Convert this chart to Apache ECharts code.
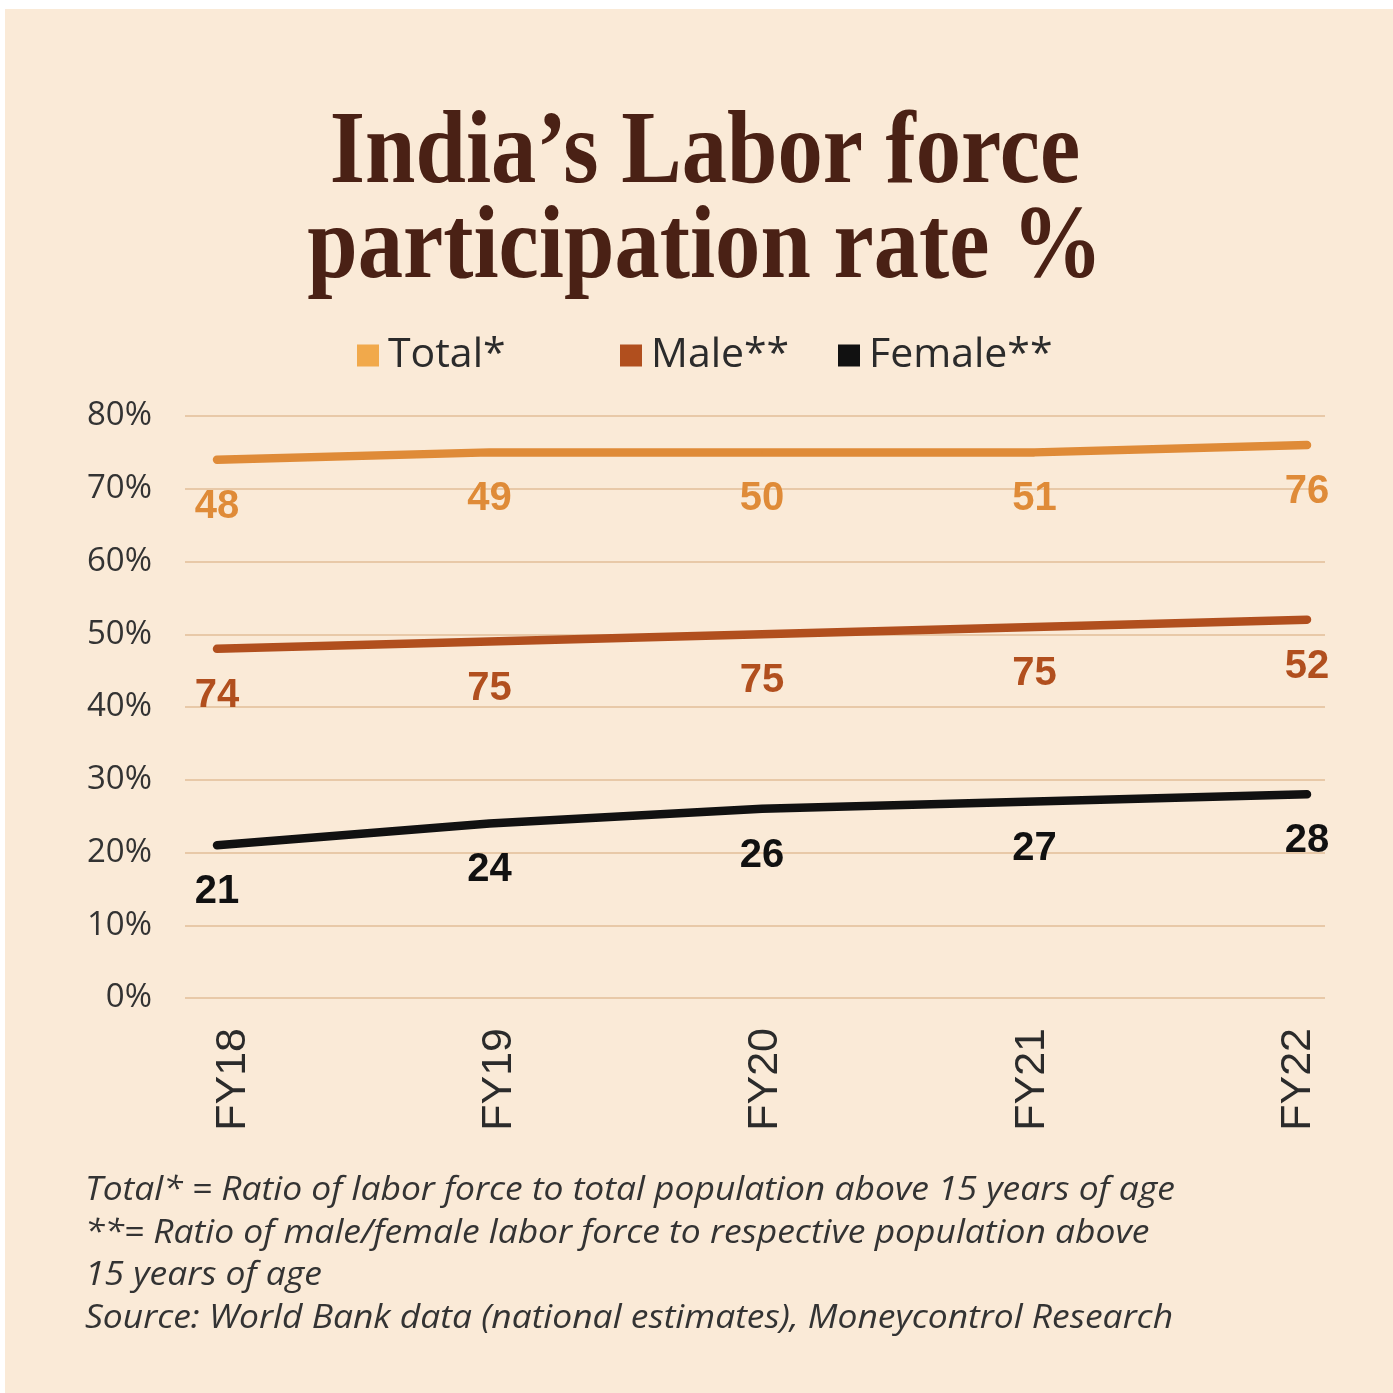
<!DOCTYPE html>
<html>
<head>
<meta charset="utf-8">
<script src="https://cdn.jsdelivr.net/npm/echarts@6/dist/echarts.min.js"></script>
<style>
  html, body { margin: 0; padding: 0; background: #ffffff; }
  #panel { position: absolute; left: 5px; top: 9px; width: 1388px; height: 1384px; background: #FAEAD7; }
  #chart { position: absolute; left: 0; top: 0; width: 1393px; height: 1393px; }
</style>
</head>
<body>
<div id="panel"></div>
<div id="chart"></div>
<script>
// Fiscal years on the x axis
const categories = ['FY18', 'FY19', 'FY20', 'FY21', 'FY22'];

// Line values (%)
const totalValues = [74, 75, 75, 75, 76];
const maleValues = [48, 49, 50, 51, 52];
const femaleValues = [21, 24, 26, 27, 28];

// Figures printed beneath each line, as published
const totalPrinted = [48, 49, 50, 51, 76];
const malePrinted = [74, 75, 75, 75, 52];

// Y axis ticks
const yMin = 0;
const yMax = 80;
const yStep = 10;

const footnotes = [
  'Total* = Ratio of labor force to total population above 15 years of age',
  '**= Ratio of male/female labor force to respective population above',
  '15 years of age',
  'Source: World Bank data (national estimates), Moneycontrol Research'
];

const C_TOTAL = '#DF8B38';
const C_TOTAL_KEY = '#F1A94B';
const C_MALE = '#B14F1E';
const C_FEMALE = '#111111';
const C_TEXT = '#2b2b2b';
const SANS = '"Open Sans", "Noto Sans", sans-serif';

const chart = echarts.init(document.getElementById('chart'), null, { renderer: 'canvas' });

function valueLabel(color, printed) {
  return {
    show: true,
    position: 'bottom',
    distance: 26,
    color: color,
    fontFamily: '"Liberation Sans", Arial, sans-serif',
    fontWeight: 'bold',
    fontSize: 40,
    lineHeight: 40,
    formatter: p => String(printed ? printed[p.dataIndex] : p.value)
  };
}

function lineSeries(name, data, color, printed) {
  return {
    name: name,
    type: 'line',
    xAxisIndex: 1,
    yAxisIndex: 1,
    data: data,
    symbol: 'circle',
    symbolSize: 2,
    itemStyle: { color: color },
    lineStyle: { color: color, width: 8.5, cap: 'round', join: 'round' },
    label: valueLabel(color, printed),
    emphasis: { disabled: true },
    animation: false
  };
}

function legendAt(left, name, color) {
  return {
    left: left,
    top: 330,
    icon: 'rect',
    itemWidth: 22,
    itemHeight: 22,
    itemGap: 0,
    selectedMode: false,
    data: [{ name: name, itemStyle: { color: color } }],
    textStyle: { fontSize: 41, color: C_TEXT, fontFamily: SANS, padding: [0, 0, 0, 4] }
  };
}

const titleFont = 'bold 103px "Liberation Serif", "DejaVu Serif", serif';
const footFont = 'italic 33px ' + SANS;

const option = {
  backgroundColor: 'transparent',
  animation: false,
  legend: [
    legendAt(352, 'Total*', C_TOTAL_KEY),
    legendAt(615, 'Male**', C_MALE),
    legendAt(833, 'Female**', C_FEMALE)
  ],
  grid: [
    // full-width grid carrying the horizontal gridlines and the % labels
    { left: 185, right: 68, top: 416, bottom: 395 },
    // plotting grid for the lines
    { left: 217, right: 86, top: 416, bottom: 395 },
    // grid holding the year labels
    { left: 233, right: 95, top: 416, bottom: 395 }
  ],
  xAxis: [
    { gridIndex: 0, type: 'category', data: categories, show: false },
    { gridIndex: 1, type: 'category', data: categories, boundaryGap: false, show: false },
    {
      gridIndex: 2,
      type: 'category',
      data: categories,
      boundaryGap: false,
      axisLine: { show: false },
      axisTick: { show: false },
      axisLabel: {
        rotate: 90,
        margin: 30,
        fontSize: 43,
        color: C_TEXT,
        fontFamily: '"Liberation Sans", Arial, sans-serif'
      }
    }
  ],
  yAxis: [
    {
      gridIndex: 0,
      type: 'value',
      min: yMin,
      max: yMax,
      interval: yStep,
      axisLine: { show: false },
      axisTick: { show: false },
      axisLabel: {
        formatter: '{value}%',
        margin: 33,
        fontSize: 33,
        color: '#333333',
        fontFamily: SANS
      },
      splitLine: { lineStyle: { color: '#E2BE98', width: 1.5 } }
    },
    { gridIndex: 1, type: 'value', min: yMin, max: yMax, interval: yStep, show: false, splitLine: { show: false } },
    { gridIndex: 2, type: 'value', min: yMin, max: yMax, interval: yStep, show: false, splitLine: { show: false } }
  ],
  series: [
    lineSeries('Total*', totalValues, C_TOTAL, totalPrinted),
    lineSeries('Male**', maleValues, C_MALE, malePrinted),
    lineSeries('Female**', femaleValues, C_FEMALE, null)
  ],
  graphic: [
    {
      type: 'text', x: 705, y: 155, scaleX: 0.88,
      style: { text: 'India\u2019s Labor force', x: 0, y: 0, textAlign: 'center', textVerticalAlign: 'middle', font: titleFont, fill: '#4A2115' }
    },
    {
      type: 'text', x: 705, y: 250, scaleX: 0.88,
      style: { text: 'participation rate %', x: 0, y: 0, textAlign: 'center', textVerticalAlign: 'middle', font: titleFont, fill: '#4A2115' }
    }
  ].concat(footnotes.map((t, i) => ({
    type: 'text', x: 85, y: 1191 + i * 42.5, scaleX: 1.073,
    style: { text: t, x: 0, y: 0, textAlign: 'left', textVerticalAlign: 'middle', font: footFont, fill: '#333333' }
  })))
};

chart.setOption(option);
</script>
</body>
</html>
